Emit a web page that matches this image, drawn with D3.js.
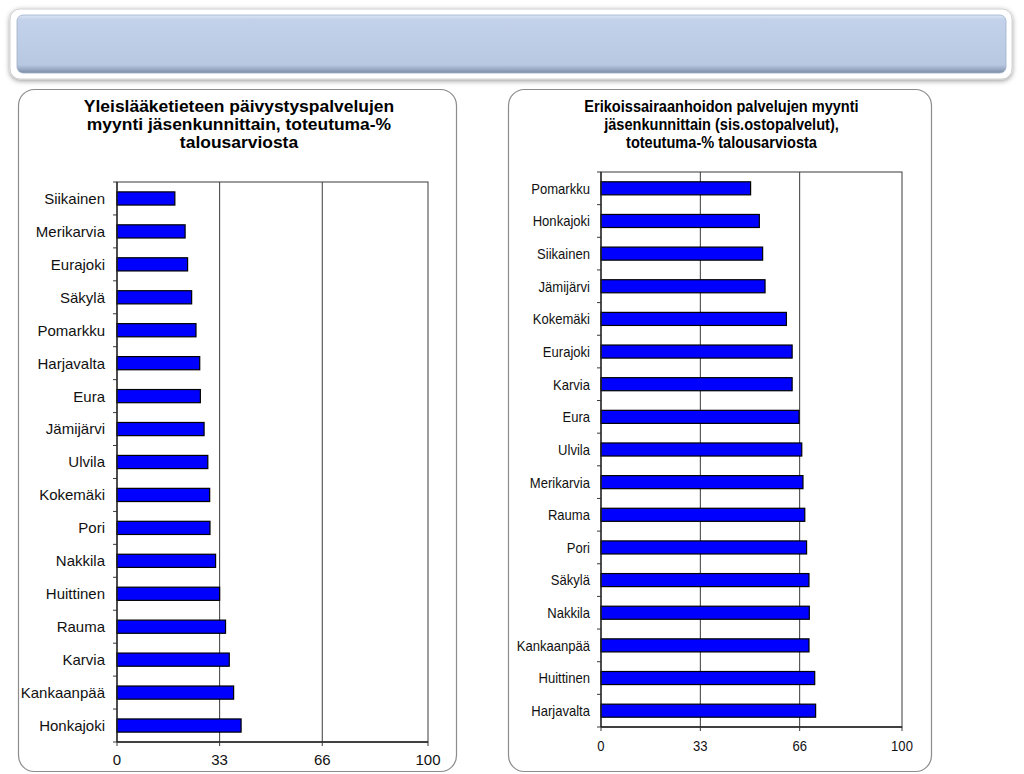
<!DOCTYPE html>
<html><head><meta charset="utf-8">
<script src="https://cdn.jsdelivr.net/npm/d3@7"></script>
<style>body{margin:0;background:#fff}svg{display:block}text{font-family:"Liberation Sans",Arial,Helvetica,sans-serif}</style>
</head><body><svg id="c" width="1024" height="774"></svg>
<script>
const leftCategories = ["Siikainen","Merikarvia","Eurajoki","Säkylä","Pomarkku","Harjavalta","Eura","Jämijärvi","Ulvila","Kokemäki","Pori","Nakkila","Huittinen","Rauma","Karvia","Kankaanpää","Honkajoki"];
const leftValues = [18.6,21.9,22.7,24.0,25.4,26.6,26.8,28.0,29.2,29.8,29.9,31.7,33.0,34.9,36.1,37.5,39.9];
const rightCategories = ["Pomarkku","Honkajoki","Siikainen","Jämijärvi","Kokemäki","Eurajoki","Karvia","Eura","Ulvila","Merikarvia","Rauma","Pori","Säkylä","Nakkila","Kankaanpää","Huittinen","Harjavalta"];
const rightValues = [49.7,52.6,53.7,54.5,61.6,63.5,63.5,65.8,66.7,67.1,67.7,68.3,69.1,69.2,69.1,71.0,71.3];
const tickValues = [0,33,66,100];
const gridValues = [33,66];
const leftTitle = ["Yleislääketieteen päivystyspalvelujen","myynti jäsenkunnittain, toteutuma-%","talousarviosta"];
const rightTitle = ["Erikoissairaanhoidon palvelujen myynti","jäsenkunnittain (sis.ostopalvelut),","toteutuma-% talousarviosta"];

const svg = d3.select("#c");
const defs = svg.append("defs");
const g = defs.append("linearGradient").attr("id","hdr").attr("x1",0).attr("y1",0).attr("x2",0).attr("y2",1);
[[0,"#dbe6f6"],[0.08,"#c3d2ea"],[0.5,"#bdcde6"],[0.86,"#b8c8e1"],[0.94,"#98a8c2"],[1,"#7b8aa3"]].forEach(s=>g.append("stop").attr("offset",s[0]).attr("stop-color",s[1]));
const f = defs.append("filter").attr("id","sh").attr("x","-5%").attr("y","-20%").attr("width","110%").attr("height","150%");
f.append("feDropShadow").attr("dx",0).attr("dy",1.5).attr("stdDeviation",2.5).attr("flood-color","#000").attr("flood-opacity",0.4);

// header banner
svg.append("rect").attr("x",10).attr("y",9).attr("width",1002).attr("height",70).attr("rx",10)
  .attr("fill","#fff").attr("stroke","#d0d0d0").attr("filter","url(#sh)");
svg.append("rect").attr("x",17).attr("y",15).attr("width",989).attr("height",58).attr("rx",6)
  .attr("fill","url(#hdr)").attr("stroke","#9fb0c8").attr("stroke-width",0.8);

function condense(sel, factor){
  if(factor===1) return;
  sel.each(function(){
    const w = this.getComputedTextLength();
    d3.select(this).attr("textLength", w*factor).attr("lengthAdjust","spacingAndGlyphs");
  });
}

function drawChart(cfg){
  const root = svg.append("g");
  root.append("rect").attr("x",cfg.px).attr("y",89.5).attr("width",cfg.pw).attr("height",682).attr("rx",16)
    .attr("fill","#fff").attr("stroke","#8c8c8c").attr("stroke-width",1.2);
  // title
  const t = root.append("g");
  cfg.title.forEach((line,i)=>{
    const tx = t.append("text").attr("x",cfg.tcx).attr("y",112+i*18).attr("text-anchor","middle")
      .attr("font-size",16).attr("font-weight","bold").attr("fill","#000").text(line);
    condense(tx, cfg.tf);
  });
  const x = d3.scaleLinear().domain([0,100]).range([cfg.x0,cfg.x1]);
  const y = d3.scaleBand().domain(cfg.cats).range([cfg.y0,cfg.y1]).paddingInner(0.6).paddingOuter(0.3);
  // plot frame
  root.append("rect").attr("x",cfg.x0).attr("y",cfg.y0).attr("width",cfg.x1-cfg.x0).attr("height",cfg.y1-cfg.y0)
    .attr("fill","#fff").attr("stroke","#3a3a3a").attr("stroke-width",1);
  root.selectAll(".grid").data(gridValues).enter().append("line")
    .attr("x1",d=>x(d)).attr("x2",d=>x(d)).attr("y1",cfg.y0).attr("y2",cfg.y1)
    .attr("stroke","#3a3a3a").attr("stroke-width",1);
  // bars
  root.selectAll(".bar").data(cfg.vals).enter().append("rect")
    .attr("x",x(0)).attr("y",(d,i)=>y(cfg.cats[i])).attr("width",d=>x(d)-x(0)).attr("height",y.bandwidth())
    .attr("fill","#0000ff").attr("stroke","#000").attr("stroke-width",1.2);
  // y axis: ticks at category boundaries
  const step = y.step();
  const bounds = d3.range(cfg.cats.length+1).map(i=>cfg.y0+i*step);
  root.selectAll(".yt").data(bounds).enter().append("line")
    .attr("x1",cfg.x0-4).attr("x2",cfg.x0).attr("y1",d=>d).attr("y2",d=>d).attr("stroke","#3a3a3a");
  root.append("line").attr("x1",cfg.x0).attr("x2",cfg.x0).attr("y1",cfg.y0).attr("y2",cfg.y1).attr("stroke","#222").attr("stroke-width",1.3);
  const yl = root.selectAll(".yl").data(cfg.cats).enter().append("text")
    .attr("x",cfg.labelX).attr("y",d=>y(d)+y.bandwidth()/2).attr("dy","0.36em")
    .attr("text-anchor","end").attr("font-size",15).attr("fill","#111").text(d=>d);
  condense(yl, cfg.lf);
  // x axis
  root.append("line").attr("x1",cfg.x0).attr("x2",cfg.x1).attr("y1",cfg.y1).attr("y2",cfg.y1).attr("stroke","#222").attr("stroke-width",1.3);
  root.selectAll(".xt").data(tickValues).enter().append("line")
    .attr("x1",d=>x(d)).attr("x2",d=>x(d)).attr("y1",cfg.y1).attr("y2",cfg.y1+4).attr("stroke","#3a3a3a");
  const xl = root.selectAll(".xl").data(tickValues).enter().append("text")
    .attr("x",d=>x(d)).attr("y",cfg.y1+cfg.tickDy).attr("text-anchor","middle")
    .attr("font-size",15).attr("fill","#111").text(d=>d);
  condense(xl, cfg.lf);
}

drawChart({px:18.5,pw:438,tcx:239,title:leftTitle,tf:1.09,cats:leftCategories,vals:leftValues,
  x0:117,x1:428,y0:182,y1:742,labelX:105,lf:1,tickDy:23});
drawChart({px:508.5,pw:423,tcx:721.5,title:rightTitle,tf:0.91,cats:rightCategories,vals:rightValues,
  x0:601,x1:902,y0:172,y1:727,labelX:590,lf:0.87,tickDy:24});
</script></body></html>
